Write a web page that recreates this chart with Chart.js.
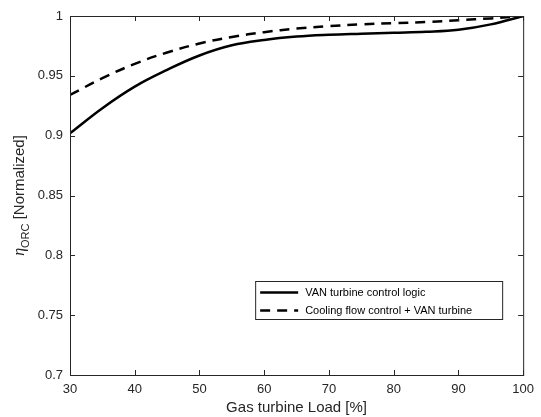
<!DOCTYPE html>
<html>
<head>
<meta charset="utf-8">
<script src="https://cdn.jsdelivr.net/npm/chart.js@4.4.0/dist/chart.umd.min.js"></script>
<style>
  html, body { margin: 0; padding: 0; background: #fff; }
</style>
</head>
<body>
<canvas id="myChart" width="541" height="417"></canvas>
<script>
// values
const loads = [30, 35, 40, 45, 50, 55, 60, 65, 70, 75, 80, 85, 90, 95, 100];
const vanLogic = [0.902, 0.923, 0.941, 0.955, 0.967, 0.9755, 0.980, 0.9828, 0.9843, 0.9852, 0.986, 0.9868, 0.9885, 0.993, 1.0];
const coolingFlow = [0.934, 0.948, 0.960, 0.9695, 0.977, 0.9825, 0.9865, 0.9895, 0.9915, 0.993, 0.994, 0.995, 0.9965, 0.998, 1.0];

const seriesNames = ['VAN turbine control logic', 'Cooling flow control + VAN turbine'];
const xTicks = [30, 40, 50, 60, 70, 80, 90, 100];
const yTickLabels = ['0.7', '0.75', '0.8', '0.85', '0.9', '0.95', '1'];
const xTitle = 'Gas turbine Load [%]';

const axisColor = '#262626';

const toPoints = (vals) => vals.map((v, i) => ({ x: loads[i], y: v }));

// box around the axes + inward ticks on all four sides (matlab look)
const framePlugin = {
  id: 'frame',
  afterDatasetsDraw(chart) {
    const { ctx, chartArea: a, scales } = chart;
    const tl = 5;
    ctx.save();
    ctx.strokeStyle = axisColor;
    ctx.lineWidth = 1;
    ctx.strokeRect(a.left + 0.5, a.top + 0.5, a.right - a.left, a.bottom - a.top);
    ctx.beginPath();
    scales.x.ticks.forEach(t => {
      const px = Math.round(scales.x.getPixelForValue(t.value)) + 0.5;
      ctx.moveTo(px, a.bottom); ctx.lineTo(px, a.bottom - tl);
      ctx.moveTo(px, a.top); ctx.lineTo(px, a.top + tl);
    });
    scales.y.ticks.forEach(t => {
      const py = Math.round(scales.y.getPixelForValue(t.value)) + 0.5;
      ctx.moveTo(a.left, py); ctx.lineTo(a.left + tl, py);
      ctx.moveTo(a.right, py); ctx.lineTo(a.right - tl, py);
    });
    ctx.stroke();
    ctx.restore();
  }
};

// legend box inside the plot, lower right
const boxLegend = {
  id: 'boxLegend',
  afterDraw(chart) {
    const { ctx, chartArea: a } = chart;
    const right = a.right - 21, bottom = a.bottom - 56;
    const w = 247, h = 38;
    const left = right - w, top = bottom - h;
    ctx.save();
    ctx.fillStyle = '#fff';
    ctx.fillRect(left, top, w, h);
    ctx.strokeStyle = axisColor;
    ctx.lineWidth = 1;
    ctx.strokeRect(left + 0.5, top + 0.5, w, h);
    ctx.font = '11px "Liberation Sans", Arial, sans-serif';
    ctx.textBaseline = 'middle';
    chart.data.datasets.forEach((ds, i) => {
      const y = top + 11.5 + i * 18;
      ctx.beginPath();
      ctx.strokeStyle = ds.borderColor;
      ctx.lineWidth = ds.borderWidth;
      ctx.setLineDash(ds.borderDash || []);
      ctx.moveTo(left + 5, y);
      ctx.lineTo(left + 43, y);
      ctx.stroke();
      ctx.setLineDash([]);
      ctx.fillStyle = '#000';
      ctx.fillText(ds.label, left + 50, y + 0.5);
    });
    ctx.restore();
  }
};

// y title with subscript: eta_ORC [Normalized]
const yTitlePlugin = {
  id: 'yTitle',
  afterDraw(chart) {
    const { ctx, chartArea: a } = chart;
    const big = '15px "Liberation Sans", Arial, sans-serif';
    const small = '11px "Liberation Sans", Arial, sans-serif';
    const eta = 'italic 16px "Liberation Serif", serif';
    ctx.save();
    ctx.fillStyle = axisColor;
    ctx.font = eta; const w1 = ctx.measureText('η').width;
    ctx.font = small; const w2 = ctx.measureText('ORC').width;
    ctx.font = big; const w3 = ctx.measureText(' [Normalized]').width;
    const total = w1 + w2 + w3;
    ctx.translate(25, (a.top + a.bottom) / 2);
    ctx.rotate(-Math.PI / 2);
    ctx.textBaseline = 'alphabetic';
    let x = -total / 2;
    ctx.font = eta; ctx.fillText('η', x, -1); x += w1;
    ctx.font = small; ctx.fillText('ORC', x, 4); x += w2;
    ctx.font = big; ctx.fillText(' [Normalized]', x, -1);
    ctx.restore();
  }
};

const ctx = document.getElementById('myChart').getContext('2d');
const chart = new Chart(ctx, {
  type: 'line',
  data: {
    datasets: [
      {
        label: seriesNames[0],
        data: toPoints(vanLogic),
        borderColor: '#000',
        borderWidth: 2.5,
        pointRadius: 0,
        tension: 0.4,
        fill: false
      }, {
        label: seriesNames[1],
        data: toPoints(coolingFlow),
        borderColor: '#000',
        borderWidth: 2.5,
        borderDash: [10, 7],
        pointRadius: 0,
        tension: 0.4,
        fill: false
      }
    ]
  },
  options: {
    responsive: false,
    animation: false,
    devicePixelRatio: 1,
    layout: {
      padding: { top: 16, right: 13, left: 0, bottom: 0 }
    },
    plugins: {
      legend: { display: false },
      tooltip: { enabled: false }
    },
    scales: {
      x: {
        type: 'linear',
        min: 30,
        max: 100,
        afterBuildTicks: (s) => { s.ticks = xTicks.map(v => ({ value: v })); },
        afterFit: (s) => { s.height = 42; },
        grid: { display: false, drawTicks: false },
        border: { display: false },
        ticks: {
          padding: 7,
          maxRotation: 0,
          color: axisColor,
          font: { family: '"Liberation Sans", Arial, sans-serif', size: 13 }
        },
        title: {
          display: true,
          text: xTitle,
          color: axisColor,
          padding: { top: 0, bottom: 0 },
          font: { family: '"Liberation Sans", Arial, sans-serif', size: 15 }
        }
      },
      y: {
        min: 0.7,
        max: 1,
        afterFit: (s) => { s.width = 70; },
        grid: { display: false, drawTicks: false },
        border: { display: false },
        ticks: {
          stepSize: 0.05,
          padding: 7,
          color: axisColor,
          font: { family: '"Liberation Sans", Arial, sans-serif', size: 13 },
          callback: (value, index) => yTickLabels[index]
        }
      }
    }
  },
  plugins: [framePlugin, boxLegend, yTitlePlugin]
});
</script>
</body>
</html>
